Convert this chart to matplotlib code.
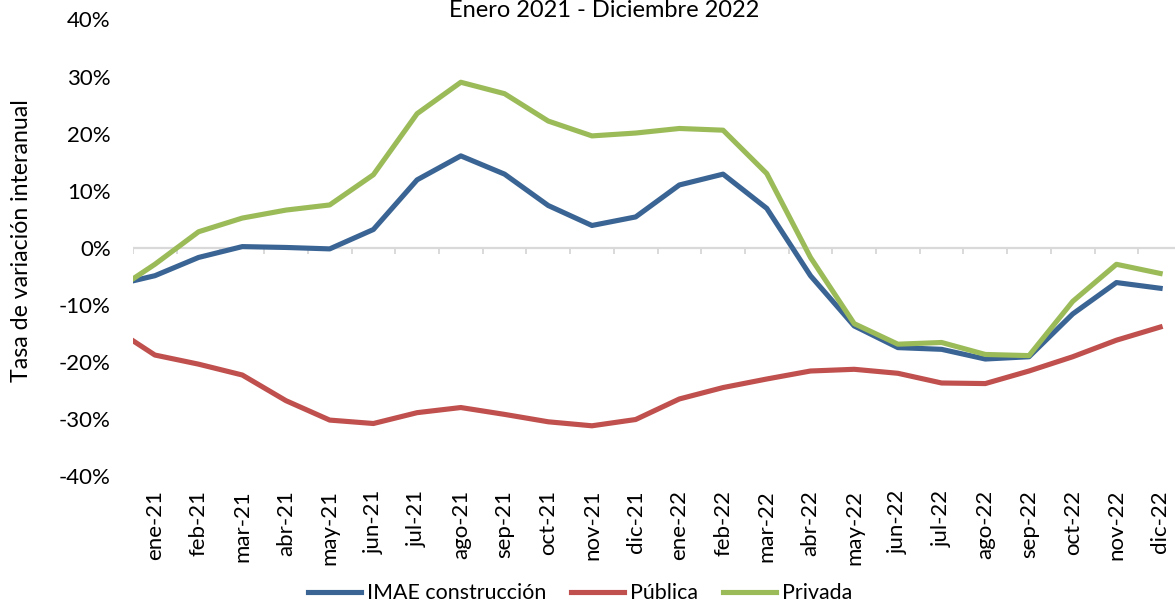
import numpy as np
import matplotlib
matplotlib.use("Agg")
import matplotlib.pyplot as plt
from matplotlib.ticker import FuncFormatter

matplotlib.rcParams["font.family"] = ["Lato", "DejaVu Sans"]

# dic-20 is only there so the clipped start of each line looks right
meses = ["dic-20",
         "ene-21", "feb-21", "mar-21", "abr-21", "may-21", "jun-21",
         "jul-21", "ago-21", "sep-21", "oct-21", "nov-21", "dic-21",
         "ene-22", "feb-22", "mar-22", "abr-22", "may-22", "jun-22",
         "jul-22", "ago-22", "sep-22", "oct-22", "nov-22", "dic-22"]

imae = [-6.7,
        -4.9, -1.7, 0.2, 0.05, -0.2, 3.2,
        11.9, 16.1, 12.9, 7.4, 3.9, 5.4,
        11.0, 12.9, 6.9, -4.9, -13.7, -17.5,
        -17.8, -19.5, -19.1, -11.6, -6.1, -7.1]

publica = [-13.8,
           -18.8, -20.4, -22.3, -26.8, -30.2, -30.8,
           -28.9, -28.0, -29.2, -30.5, -31.2, -30.1,
           -26.5, -24.5, -23.0, -21.6, -21.3, -22.0,
           -23.7, -23.8, -21.6, -19.1, -16.2, -13.9]

privada = [-8.0,
           -2.9, 2.8, 5.2, 6.6, 7.5, 12.8,
           23.5, 29.0, 27.0, 22.2, 19.6, 20.1,
           20.9, 20.6, 13.0, -1.7, -13.3, -16.9,
           -16.6, -18.7, -18.9, -9.4, -2.9, -4.5]

x = np.arange(len(meses)) - 1

fig = plt.figure(figsize=(11.75, 6.07), dpi=100)
ax = fig.add_axes([0.1132, 0.2158, 1 - 0.1132, 0.9679 - 0.2158])

# zero line + small tick marks between the months
gris = "#D9D9D9"
ax.axhline(0, color=gris, lw=1.6, zorder=1)
ax.vlines(x[1:] - 0.5, -1.1, 0, color=gris, lw=1.4, zorder=1)

lw = 3.7
ax.plot(x, imae, color="#3A6494", lw=lw, label="IMAE construcción", zorder=3)
ax.plot(x, publica, color="#C0504D", lw=lw, label="Pública", zorder=3)
ax.plot(x, privada, color="#9BBB59", lw=lw, label="Privada", zorder=3)

ax.set_ylim(-40, 40)
ax.set_xlim(-0.5, 23.34)
ax.set_yticks(np.arange(-40, 41, 10))
ax.yaxis.set_major_formatter(FuncFormatter(lambda v, p: "%d%%" % v))
ax.tick_params(axis="y", length=0, pad=16, labelsize=16)

ax.set_xticks(x[1:])
ax.set_xticklabels(meses[1:], rotation=90)
ax.tick_params(axis="x", length=0, pad=10, labelsize=16)

for s in ax.spines.values():
    s.set_visible(False)

ax.set_ylabel("Tasa de variación interanual", fontsize=16.7)
ax.yaxis.set_label_coords(-0.097, 0.515)

fig.text(0.514, 1 - 17 / 607, "Enero 2021 - Diciembre 2022", ha="center", va="baseline", fontsize=17)

fig.legend(loc="center", bbox_to_anchor=(0.4936, 1 - 593 / 607), ncol=3, frameon=False,
           fontsize=15.4, handlelength=2.48, handletextpad=0.28, columnspacing=1.17)

fig.savefig("out.png", dpi=100)
